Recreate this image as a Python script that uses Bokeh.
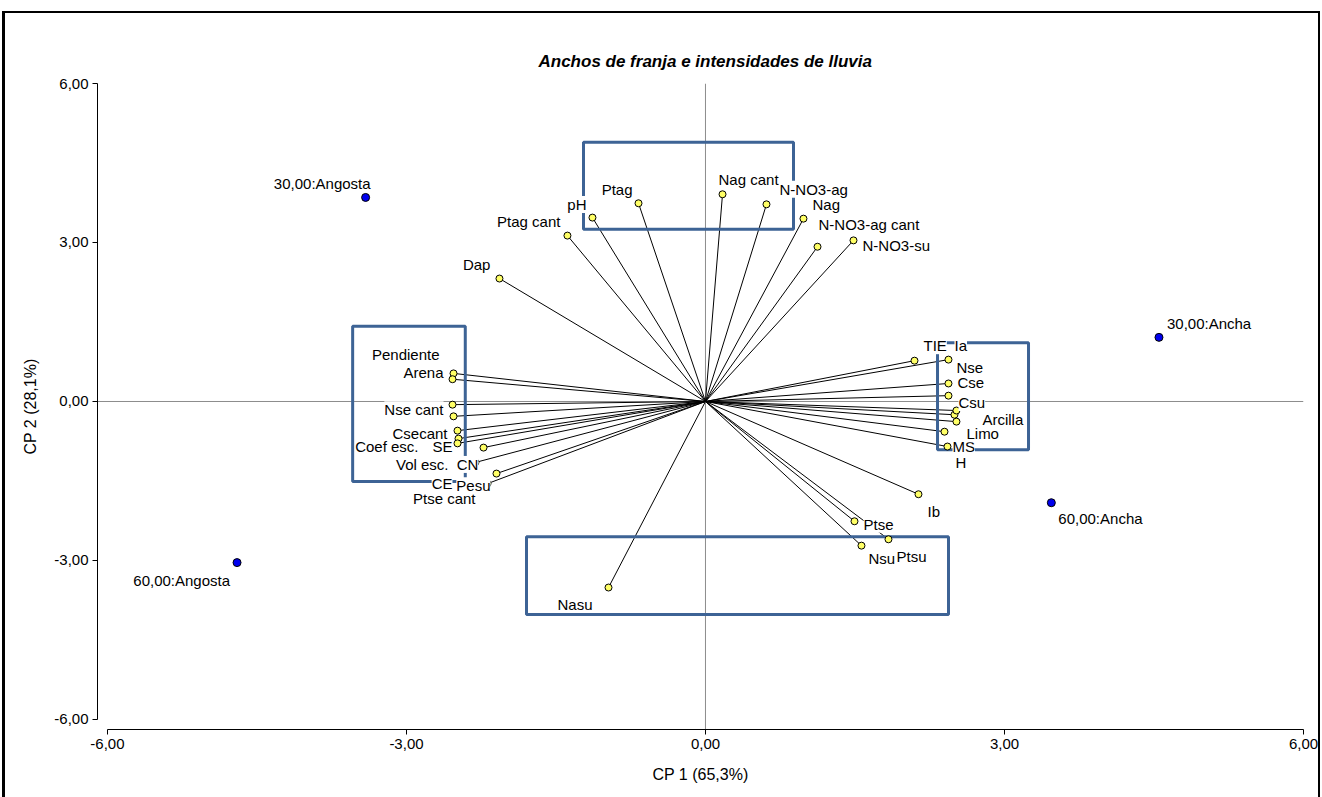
from bokeh.plotting import figure
from bokeh.models import (Range1d, FixedTicker, CustomJSTickFormatter, Span,
                          ColumnDataSource, InlineStyleSheet)
from bokeh.core.properties import value
from bokeh.embed import file_html
from bokeh.resources import INLINE

# ---------------- data ----------------
chart_title = "Anchos de franja e intensidades de lluvia"
x_title = "CP 1 (65,3%)"
y_title = "CP 2 (28,1%)"
tick_values = [-6, -3, 0, 3, 6]

cat_names = ["30,00:Angosta", "30,00:Ancha", "60,00:Ancha", "60,00:Angosta"]
cat_x = [-3.41, 4.55, 3.47, -4.70]
cat_y = [3.85, 1.21, -1.91, -3.04]

var_names = ["Ptag", "pH", "Ptag cant", "Dap", "Nag cant", "N-NO3-ag", "Nag",
             "N-NO3-ag cant", "N-NO3-su",
             "Pendiente", "Arena", "Nse cant", "Coef esc.", "SE", "Csecant",
             "Vol esc.", "Ptse cant", "CN", "CE", "Pesu",
             "TIE", "Ia", "Nse", "Cse", "Arcilla", "Csu", "H", "MS", "Limo",
             "Ib", "Ptse", "Ptsu", "Nsu", "Nasu"]
var_x = [-0.672, -1.134, -1.385, -2.067, 0.171, 0.612, 0.983, 1.124, 1.485,
         -2.528, -2.538, -2.538, -2.488, -2.478, -2.528, -2.488, -2.227, -2.308, -2.097, -2.187,
         2.097, 2.438, 2.438, 2.438, 2.498, 2.518, 2.428, 2.398, 2.518,
         2.137, 1.495, 1.836, 1.565, -0.973]
var_y = [3.74, 3.47, 3.13, 2.32, 3.91, 3.72, 3.45, 2.92, 3.04,
         0.53, 0.42, -0.06, -0.55, -0.70, -0.28, -0.79, -0.87, -1.15, -1.36, -1.55,
         0.77, 0.79, 0.34, 0.11, -0.25, -0.17, -0.85, -0.57, -0.38,
         -1.75, -2.26, -2.60, -2.72, -3.51]

# highlight boxes (data coordinates)
box_left = [-3.54, -1.224, 2.328, -1.796]
box_right = [-2.41, 0.883, 3.241, 2.438]
box_top = [1.42, 4.89, 1.11, -2.55]
box_bottom = [-1.51, 3.25, -0.91, -4.02]

# ---------------- label placement (screen px) ----------------
cat_dx = [5, 8, 7, -7]
cat_dy = [-14, -14, 16, 18]
cat_align = ["right", "left", "left", "right"]

var_dx = [-6, -6, -7, -9, -4, 13, 9, 1, 9,
          -14, -9, -9, -39, -6, -6, -9, -8, 3, -44, 3,
          9, 6, 8, 9, 28, 2, 8, 8, 10,
          9, 9, 8, 7, -16]
var_dy = [-14, -13, -14, -14, -15, -15, -14, -22, 5,
          -19, -7, 5, 16, 8, 17, 21, 51, 2, 10, 2,
          -15, -14, -16, -13, 5, -8, 16, 15, 12,
          17, 3, 17, 13, 17]
var_align = ["right"] * 4 + ["left"] * 5 + ["right"] * 11 + ["left"] * 9 + ["left"] * 4 + ["right"]

FONT = "Liberation Sans"

p = figure(width=1322, height=797, output_backend="svg", toolbar_location=None,
           x_range=Range1d(-6.1, 6.0), y_range=Range1d(-6.189, 6.0),
           min_border_left=97, min_border_right=19, min_border_top=83, min_border_bottom=68)
p.background_fill_color = "white"
p.border_fill_color = "white"
p.outline_line_color = None
p.xgrid.visible = False
p.ygrid.visible = False

# title
p.title.text = chart_title
p.title.align = "left"
p.title.offset = 441
p.title.standoff = 26
p.title.text_font = FONT
p.title.text_font_size = "17px"
p.title.text_font_style = "bold italic"
p.title.text_color = "black"

fmt = CustomJSTickFormatter(code="return tick.toFixed(2).replace('.', ',');")
for ax, lab, stand in ((p.xaxis[0], x_title, 14), (p.yaxis[0], y_title, 12)):
    ax.ticker = FixedTicker(ticks=tick_values)
    ax.formatter = fmt
    ax.bounds = (-6, 6)
    ax.axis_label = lab
    ax.axis_label_standoff = stand
    ax.axis_label_text_font = FONT
    ax.axis_label_text_font_size = "16px"
    ax.axis_label_text_font_style = "normal"
    ax.axis_label_text_color = "black"
    ax.major_label_text_font = FONT
    ax.major_label_text_font_size = "15px"
    ax.major_label_text_color = "black"
    ax.major_label_standoff = 4
    ax.axis_line_color = "black"
    ax.axis_line_width = 1
    ax.major_tick_line_color = "black"
    ax.major_tick_in = 0
    ax.major_tick_out = 5
    ax.minor_tick_line_color = None

# reference lines through origin
p.add_layout(Span(location=0, dimension="width", line_color="#8c8c8c", line_width=1, level="underlay"))
p.add_layout(Span(location=0, dimension="height", line_color="#8c8c8c", line_width=1, level="underlay"))

vsrc = ColumnDataSource(dict(x=var_x, y=var_y, name=var_names, dx=var_dx, dy=var_dy,
                             align=var_align, x0=[0] * len(var_x), y0=[0] * len(var_x)))
csrc = ColumnDataSource(dict(x=cat_x, y=cat_y, name=cat_names, dx=cat_dx, dy=cat_dy, align=cat_align))
bsrc = ColumnDataSource(dict(left=box_left, right=box_right, top=box_top, bottom=box_bottom))

p.segment(x0="x0", y0="y0", x1="x", y1="y", source=vsrc, line_color="black", line_width=1)
p.quad(left="left", right="right", top="top", bottom="bottom", source=bsrc,
       fill_color=None, line_color="#3D6395", line_width=3)
p.scatter(x="x", y="y", source=vsrc, size=7, fill_color="#FFFF66", line_color="black", line_width=1)
p.scatter(x="x", y="y", source=csrc, size=8, fill_color="#0000EE", line_color="black", line_width=1)

for src in (vsrc, csrc):
    p.text(x="x", y="y", text="name", source=src, x_offset="dx", y_offset="dy",
           text_align="align", text_baseline="middle", text_font=value(FONT),
           text_font_size="15px", text_color="black", background_fill_color="white")

# outer frame of the chart image
p.stylesheets = [InlineStyleSheet(css="""
:host { position: relative; }
:host::after {
  content: ""; position: absolute; left: 2px; top: 11px; right: 2px; bottom: 0px;
  border-top: 2px solid black; border-left: 3px solid black; border-right: 2px solid black;
  pointer-events: none; z-index: 10;
}
""")]

open("out.html", "w").write(file_html(p, INLINE))
